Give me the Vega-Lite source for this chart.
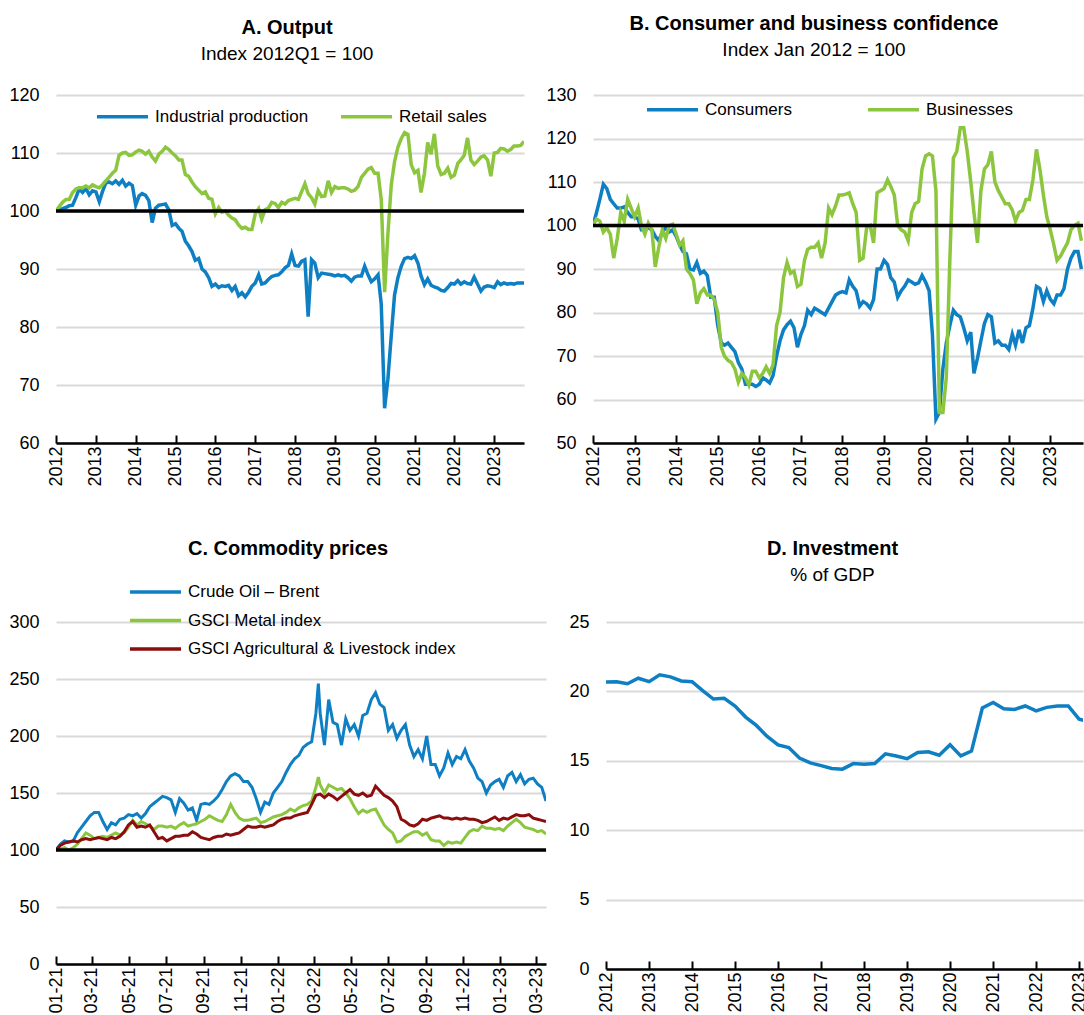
{
"$schema":"https://vega.github.io/schema/vega-lite/v6.json",
"padding":{"left":8,"top":14,"right":0,"bottom":0},
"config":{
 "font":"Liberation Sans, Arial, sans-serif",
 "view":{"stroke":null},
 "axis":{"labelFont":"Liberation Sans, Arial, sans-serif","labelFontSize":18,"labelColor":"#000","domainColor":"#000","tickColor":"#000","title":null,"labelOverlap":false,"labelFlush":false},
 "axisY":{"domain":false,"ticks":false,"grid":true,"gridColor":"#d9d9d9","gridWidth":2,"labelPadding":17},
 "axisX":{"grid":false,"domainWidth":2.5,"tickWidth":2,"tickSize":-8,"labelAngle":-90,"labelPadding":11},
 "legend":{"title":null,"orient":"none","symbolType":"stroke","symbolSize":2600,"symbolStrokeWidth":3.5,"labelFontSize":17,"labelFont":"Liberation Sans, Arial, sans-serif","labelColor":"#000","labelOffset":5,"labelLimit":500},
 "title":{"font":"Liberation Sans, Arial, sans-serif","fontSize":20,"fontWeight":"bold","color":"#000","subtitleFont":"Liberation Sans, Arial, sans-serif","subtitleFontSize":19,"subtitleColor":"#000","subtitlePadding":7,"anchor":"middle","frame":"group"}
},
"spacing":52,
"resolve":{"scale":{"x":"independent","y":"independent","color":"independent"},"legend":{"color":"independent"}},
"datasets":{
"output":[
{"d":"2012-01","s":"ip","v":100},{"d":"2012-02","s":"ip","v":100.3},{"d":"2012-03","s":"ip","v":100.4},{"d":"2012-04","s":"ip","v":100.6},{"d":"2012-05","s":"ip","v":100.9},{"d":"2012-06","s":"ip","v":101},{"d":"2012-07","s":"ip","v":102.3},{"d":"2012-08","s":"ip","v":103.8},{"d":"2012-09","s":"ip","v":103.2},{"d":"2012-10","s":"ip","v":103.9},{"d":"2012-11","s":"ip","v":102.8},{"d":"2012-12","s":"ip","v":103.5},
{"d":"2013-01","s":"ip","v":103.3},{"d":"2013-02","s":"ip","v":101.6},{"d":"2013-03","s":"ip","v":103.3},{"d":"2013-04","s":"ip","v":104.8},{"d":"2013-05","s":"ip","v":105},{"d":"2013-06","s":"ip","v":104.7},{"d":"2013-07","s":"ip","v":105.2},{"d":"2013-08","s":"ip","v":104.6},{"d":"2013-09","s":"ip","v":105.3},{"d":"2013-10","s":"ip","v":104.3},{"d":"2013-11","s":"ip","v":104.8},{"d":"2013-12","s":"ip","v":104.4},
{"d":"2014-01","s":"ip","v":101},{"d":"2014-02","s":"ip","v":102.6},{"d":"2014-03","s":"ip","v":103},{"d":"2014-04","s":"ip","v":102.7},{"d":"2014-05","s":"ip","v":101.8},{"d":"2014-06","s":"ip","v":98},{"d":"2014-07","s":"ip","v":100.5},{"d":"2014-08","s":"ip","v":101},{"d":"2014-09","s":"ip","v":101.1},{"d":"2014-10","s":"ip","v":101.2},{"d":"2014-11","s":"ip","v":100.2},{"d":"2014-12","s":"ip","v":97.5},
{"d":"2015-01","s":"ip","v":97.8},{"d":"2015-02","s":"ip","v":97},{"d":"2015-03","s":"ip","v":96.5},{"d":"2015-04","s":"ip","v":94.8},{"d":"2015-05","s":"ip","v":94},{"d":"2015-06","s":"ip","v":93},{"d":"2015-07","s":"ip","v":91.5},{"d":"2015-08","s":"ip","v":91.8},{"d":"2015-09","s":"ip","v":90},{"d":"2015-10","s":"ip","v":89.5},{"d":"2015-11","s":"ip","v":88.5},{"d":"2015-12","s":"ip","v":87},
{"d":"2016-01","s":"ip","v":87.4},{"d":"2016-02","s":"ip","v":86.8},{"d":"2016-03","s":"ip","v":87.1},{"d":"2016-04","s":"ip","v":87},{"d":"2016-05","s":"ip","v":87.2},{"d":"2016-06","s":"ip","v":86.3},{"d":"2016-07","s":"ip","v":87},{"d":"2016-08","s":"ip","v":85.4},{"d":"2016-09","s":"ip","v":85.9},{"d":"2016-10","s":"ip","v":85.2},{"d":"2016-11","s":"ip","v":86},{"d":"2016-12","s":"ip","v":87},
{"d":"2017-01","s":"ip","v":87.6},{"d":"2017-02","s":"ip","v":89},{"d":"2017-03","s":"ip","v":87.4},{"d":"2017-04","s":"ip","v":87.6},{"d":"2017-05","s":"ip","v":88.2},{"d":"2017-06","s":"ip","v":88.7},{"d":"2017-07","s":"ip","v":88.9},{"d":"2017-08","s":"ip","v":89},{"d":"2017-09","s":"ip","v":89.5},{"d":"2017-10","s":"ip","v":90.2},{"d":"2017-11","s":"ip","v":90.6},{"d":"2017-12","s":"ip","v":92.6},
{"d":"2018-01","s":"ip","v":90.6},{"d":"2018-02","s":"ip","v":90.5},{"d":"2018-03","s":"ip","v":91.3},{"d":"2018-04","s":"ip","v":91.6},{"d":"2018-05","s":"ip","v":81.8},{"d":"2018-06","s":"ip","v":91.6},{"d":"2018-07","s":"ip","v":91},{"d":"2018-08","s":"ip","v":88.5},{"d":"2018-09","s":"ip","v":89.3},{"d":"2018-10","s":"ip","v":89.2},{"d":"2018-11","s":"ip","v":89.1},{"d":"2018-12","s":"ip","v":89},
{"d":"2019-01","s":"ip","v":88.8},{"d":"2019-02","s":"ip","v":89},{"d":"2019-03","s":"ip","v":88.8},{"d":"2019-04","s":"ip","v":88.9},{"d":"2019-05","s":"ip","v":88.5},{"d":"2019-06","s":"ip","v":87.9},{"d":"2019-07","s":"ip","v":88.6},{"d":"2019-08","s":"ip","v":88.8},{"d":"2019-09","s":"ip","v":88.8},{"d":"2019-10","s":"ip","v":90.5},{"d":"2019-11","s":"ip","v":89},{"d":"2019-12","s":"ip","v":87.8},
{"d":"2020-01","s":"ip","v":88.3},{"d":"2020-02","s":"ip","v":89},{"d":"2020-03","s":"ip","v":84},{"d":"2020-04","s":"ip","v":66},{"d":"2020-05","s":"ip","v":71},{"d":"2020-06","s":"ip","v":78.5},{"d":"2020-07","s":"ip","v":85.5},{"d":"2020-08","s":"ip","v":88.5},{"d":"2020-09","s":"ip","v":90.5},{"d":"2020-10","s":"ip","v":91.8},{"d":"2020-11","s":"ip","v":92},{"d":"2020-12","s":"ip","v":91.8},
{"d":"2021-01","s":"ip","v":92.3},{"d":"2021-02","s":"ip","v":91},{"d":"2021-03","s":"ip","v":88.8},{"d":"2021-04","s":"ip","v":87.3},{"d":"2021-05","s":"ip","v":88.3},{"d":"2021-06","s":"ip","v":87.2},{"d":"2021-07","s":"ip","v":86.9},{"d":"2021-08","s":"ip","v":86.7},{"d":"2021-09","s":"ip","v":86.3},{"d":"2021-10","s":"ip","v":86.2},{"d":"2021-11","s":"ip","v":86.8},{"d":"2021-12","s":"ip","v":87.5},
{"d":"2022-01","s":"ip","v":87.4},{"d":"2022-02","s":"ip","v":88},{"d":"2022-03","s":"ip","v":87.4},{"d":"2022-04","s":"ip","v":87.8},{"d":"2022-05","s":"ip","v":87.5},{"d":"2022-06","s":"ip","v":87.4},{"d":"2022-07","s":"ip","v":88.6},{"d":"2022-08","s":"ip","v":87.4},{"d":"2022-09","s":"ip","v":86.2},{"d":"2022-10","s":"ip","v":86.9},{"d":"2022-11","s":"ip","v":87.1},{"d":"2022-12","s":"ip","v":87},
{"d":"2023-01","s":"ip","v":86.8},{"d":"2023-02","s":"ip","v":87.8},{"d":"2023-03","s":"ip","v":87.3},{"d":"2023-04","s":"ip","v":87.6},{"d":"2023-05","s":"ip","v":87.4},{"d":"2023-06","s":"ip","v":87.5},{"d":"2023-07","s":"ip","v":87.4},{"d":"2023-08","s":"ip","v":87.6},{"d":"2023-09","s":"ip","v":87.6},{"d":"2023-10","s":"ip","v":87.6},
{"d":"2012-01","s":"rs","v":100},{"d":"2012-02","s":"rs","v":100.8},{"d":"2012-03","s":"rs","v":101.5},{"d":"2012-04","s":"rs","v":102},{"d":"2012-05","s":"rs","v":102},{"d":"2012-06","s":"rs","v":103.2},{"d":"2012-07","s":"rs","v":103.8},{"d":"2012-08","s":"rs","v":104},{"d":"2012-09","s":"rs","v":104},{"d":"2012-10","s":"rs","v":104.3},{"d":"2012-11","s":"rs","v":104},{"d":"2012-12","s":"rs","v":104.5},
{"d":"2013-01","s":"rs","v":104.2},{"d":"2013-02","s":"rs","v":104},{"d":"2013-03","s":"rs","v":104.5},{"d":"2013-04","s":"rs","v":105.2},{"d":"2013-05","s":"rs","v":105.8},{"d":"2013-06","s":"rs","v":106.5},{"d":"2013-07","s":"rs","v":107},{"d":"2013-08","s":"rs","v":109.6},{"d":"2013-09","s":"rs","v":110},{"d":"2013-10","s":"rs","v":110.1},{"d":"2013-11","s":"rs","v":109.6},{"d":"2013-12","s":"rs","v":109.7},
{"d":"2014-01","s":"rs","v":110.2},{"d":"2014-02","s":"rs","v":110.5},{"d":"2014-03","s":"rs","v":110.3},{"d":"2014-04","s":"rs","v":109.8},{"d":"2014-05","s":"rs","v":110.3},{"d":"2014-06","s":"rs","v":109.3},{"d":"2014-07","s":"rs","v":108.6},{"d":"2014-08","s":"rs","v":109.8},{"d":"2014-09","s":"rs","v":110.3},{"d":"2014-10","s":"rs","v":111},{"d":"2014-11","s":"rs","v":110.6},{"d":"2014-12","s":"rs","v":110},
{"d":"2015-01","s":"rs","v":109.5},{"d":"2015-02","s":"rs","v":108.8},{"d":"2015-03","s":"rs","v":108.8},{"d":"2015-04","s":"rs","v":106.3},{"d":"2015-05","s":"rs","v":106},{"d":"2015-06","s":"rs","v":105},{"d":"2015-07","s":"rs","v":104.2},{"d":"2015-08","s":"rs","v":103.6},{"d":"2015-09","s":"rs","v":103},{"d":"2015-10","s":"rs","v":103.3},{"d":"2015-11","s":"rs","v":102.2},{"d":"2015-12","s":"rs","v":102},
{"d":"2016-01","s":"rs","v":99.5},{"d":"2016-02","s":"rs","v":100.6},{"d":"2016-03","s":"rs","v":99.8},{"d":"2016-04","s":"rs","v":100},{"d":"2016-05","s":"rs","v":99.3},{"d":"2016-06","s":"rs","v":98.8},{"d":"2016-07","s":"rs","v":98.5},{"d":"2016-08","s":"rs","v":97.6},{"d":"2016-09","s":"rs","v":97},{"d":"2016-10","s":"rs","v":97.2},{"d":"2016-11","s":"rs","v":96.8},{"d":"2016-12","s":"rs","v":96.8},
{"d":"2017-01","s":"rs","v":99.5},{"d":"2017-02","s":"rs","v":100.4},{"d":"2017-03","s":"rs","v":98.6},{"d":"2017-04","s":"rs","v":100.2},{"d":"2017-05","s":"rs","v":100.5},{"d":"2017-06","s":"rs","v":101.5},{"d":"2017-07","s":"rs","v":101.3},{"d":"2017-08","s":"rs","v":100.6},{"d":"2017-09","s":"rs","v":101.5},{"d":"2017-10","s":"rs","v":101.2},{"d":"2017-11","s":"rs","v":101.8},{"d":"2017-12","s":"rs","v":102},
{"d":"2018-01","s":"rs","v":102.2},{"d":"2018-02","s":"rs","v":102},{"d":"2018-03","s":"rs","v":103.3},{"d":"2018-04","s":"rs","v":104.7},{"d":"2018-05","s":"rs","v":103},{"d":"2018-06","s":"rs","v":102.3},{"d":"2018-07","s":"rs","v":101.2},{"d":"2018-08","s":"rs","v":103.5},{"d":"2018-09","s":"rs","v":102.5},{"d":"2018-10","s":"rs","v":102.6},{"d":"2018-11","s":"rs","v":105.2},{"d":"2018-12","s":"rs","v":103.2},
{"d":"2019-01","s":"rs","v":104.2},{"d":"2019-02","s":"rs","v":103.9},{"d":"2019-03","s":"rs","v":104},{"d":"2019-04","s":"rs","v":104},{"d":"2019-05","s":"rs","v":103.8},{"d":"2019-06","s":"rs","v":103.4},{"d":"2019-07","s":"rs","v":103.6},{"d":"2019-08","s":"rs","v":104.2},{"d":"2019-09","s":"rs","v":105.8},{"d":"2019-10","s":"rs","v":106.5},{"d":"2019-11","s":"rs","v":107.2},{"d":"2019-12","s":"rs","v":107.5},
{"d":"2020-01","s":"rs","v":106.5},{"d":"2020-02","s":"rs","v":106.5},{"d":"2020-03","s":"rs","v":102},{"d":"2020-04","s":"rs","v":86},{"d":"2020-05","s":"rs","v":96},{"d":"2020-06","s":"rs","v":104.5},{"d":"2020-07","s":"rs","v":108.5},{"d":"2020-08","s":"rs","v":111},{"d":"2020-09","s":"rs","v":112.5},{"d":"2020-10","s":"rs","v":113.5},{"d":"2020-11","s":"rs","v":113.2},{"d":"2020-12","s":"rs","v":108},
{"d":"2021-01","s":"rs","v":106.6},{"d":"2021-02","s":"rs","v":107},{"d":"2021-03","s":"rs","v":103.2},{"d":"2021-04","s":"rs","v":106.5},{"d":"2021-05","s":"rs","v":111.8},{"d":"2021-06","s":"rs","v":109.8},{"d":"2021-07","s":"rs","v":113.3},{"d":"2021-08","s":"rs","v":107.8},{"d":"2021-09","s":"rs","v":106.3},{"d":"2021-10","s":"rs","v":106.5},{"d":"2021-11","s":"rs","v":107.4},{"d":"2021-12","s":"rs","v":105.8},
{"d":"2022-01","s":"rs","v":106.2},{"d":"2022-02","s":"rs","v":108.2},{"d":"2022-03","s":"rs","v":108.8},{"d":"2022-04","s":"rs","v":109.6},{"d":"2022-05","s":"rs","v":112.6},{"d":"2022-06","s":"rs","v":108.8},{"d":"2022-07","s":"rs","v":108},{"d":"2022-08","s":"rs","v":108.6},{"d":"2022-09","s":"rs","v":109.3},{"d":"2022-10","s":"rs","v":109.5},{"d":"2022-11","s":"rs","v":108.8},{"d":"2022-12","s":"rs","v":106},
{"d":"2023-01","s":"rs","v":110},{"d":"2023-02","s":"rs","v":110.1},{"d":"2023-03","s":"rs","v":110.8},{"d":"2023-04","s":"rs","v":110.7},{"d":"2023-05","s":"rs","v":110.3},{"d":"2023-06","s":"rs","v":110.6},{"d":"2023-07","s":"rs","v":111.2},{"d":"2023-08","s":"rs","v":111.2},{"d":"2023-09","s":"rs","v":111.3},{"d":"2023-10","s":"rs","v":112}
],
"conf":[
{"d":"2012-01","s":"c","v":100},{"d":"2012-02","s":"c","v":103},{"d":"2012-03","s":"c","v":106},{"d":"2012-04","s":"c","v":109.5},{"d":"2012-05","s":"c","v":108.5},{"d":"2012-06","s":"c","v":106},{"d":"2012-07","s":"c","v":105},{"d":"2012-08","s":"c","v":104},{"d":"2012-09","s":"c","v":104},{"d":"2012-10","s":"c","v":104.3},{"d":"2012-11","s":"c","v":103},{"d":"2012-12","s":"c","v":102},
{"d":"2013-01","s":"c","v":102},{"d":"2013-02","s":"c","v":101.5},{"d":"2013-03","s":"c","v":99},{"d":"2013-04","s":"c","v":99},{"d":"2013-05","s":"c","v":99.5},{"d":"2013-06","s":"c","v":99},{"d":"2013-07","s":"c","v":97.5},{"d":"2013-08","s":"c","v":96.5},{"d":"2013-09","s":"c","v":98.5},{"d":"2013-10","s":"c","v":99.5},{"d":"2013-11","s":"c","v":98.5},{"d":"2013-12","s":"c","v":99},
{"d":"2014-01","s":"c","v":97.5},{"d":"2014-02","s":"c","v":95.5},{"d":"2014-03","s":"c","v":94},{"d":"2014-04","s":"c","v":93.5},{"d":"2014-05","s":"c","v":90},{"d":"2014-06","s":"c","v":89.8},{"d":"2014-07","s":"c","v":91.5},{"d":"2014-08","s":"c","v":89},{"d":"2014-09","s":"c","v":89.5},{"d":"2014-10","s":"c","v":88.5},{"d":"2014-11","s":"c","v":83.5},{"d":"2014-12","s":"c","v":83.5},
{"d":"2015-01","s":"c","v":77},{"d":"2015-02","s":"c","v":73},{"d":"2015-03","s":"c","v":72.5},{"d":"2015-04","s":"c","v":73},{"d":"2015-05","s":"c","v":72},{"d":"2015-06","s":"c","v":71},{"d":"2015-07","s":"c","v":68.5},{"d":"2015-08","s":"c","v":67},{"d":"2015-09","s":"c","v":63.5},{"d":"2015-10","s":"c","v":63.5},{"d":"2015-11","s":"c","v":63.5},{"d":"2015-12","s":"c","v":63},
{"d":"2016-01","s":"c","v":63.5},{"d":"2016-02","s":"c","v":65},{"d":"2016-03","s":"c","v":64.5},{"d":"2016-04","s":"c","v":63.8},{"d":"2016-05","s":"c","v":65.5},{"d":"2016-06","s":"c","v":70},{"d":"2016-07","s":"c","v":73.5},{"d":"2016-08","s":"c","v":76},{"d":"2016-09","s":"c","v":77.2},{"d":"2016-10","s":"c","v":78},{"d":"2016-11","s":"c","v":76.5},{"d":"2016-12","s":"c","v":72},
{"d":"2017-01","s":"c","v":75},{"d":"2017-02","s":"c","v":77},{"d":"2017-03","s":"c","v":80.5},{"d":"2017-04","s":"c","v":79.5},{"d":"2017-05","s":"c","v":81},{"d":"2017-06","s":"c","v":80.5},{"d":"2017-07","s":"c","v":80},{"d":"2017-08","s":"c","v":79.5},{"d":"2017-09","s":"c","v":81},{"d":"2017-10","s":"c","v":82.5},{"d":"2017-11","s":"c","v":84},{"d":"2017-12","s":"c","v":84.5},
{"d":"2018-01","s":"c","v":84.8},{"d":"2018-02","s":"c","v":84.5},{"d":"2018-03","s":"c","v":87.5},{"d":"2018-04","s":"c","v":86},{"d":"2018-05","s":"c","v":85},{"d":"2018-06","s":"c","v":81.5},{"d":"2018-07","s":"c","v":82.5},{"d":"2018-08","s":"c","v":82},{"d":"2018-09","s":"c","v":81},{"d":"2018-10","s":"c","v":83},{"d":"2018-11","s":"c","v":90},{"d":"2018-12","s":"c","v":90},
{"d":"2019-01","s":"c","v":92},{"d":"2019-02","s":"c","v":91},{"d":"2019-03","s":"c","v":88},{"d":"2019-04","s":"c","v":87},{"d":"2019-05","s":"c","v":83.5},{"d":"2019-06","s":"c","v":85},{"d":"2019-07","s":"c","v":86},{"d":"2019-08","s":"c","v":87.5},{"d":"2019-09","s":"c","v":87},{"d":"2019-10","s":"c","v":86.5},{"d":"2019-11","s":"c","v":86.8},{"d":"2019-12","s":"c","v":88.5},
{"d":"2020-01","s":"c","v":87},{"d":"2020-02","s":"c","v":85},{"d":"2020-03","s":"c","v":75},{"d":"2020-04","s":"c","v":55.5},{"d":"2020-05","s":"c","v":57},{"d":"2020-06","s":"c","v":67},{"d":"2020-07","s":"c","v":73},{"d":"2020-08","s":"c","v":77},{"d":"2020-09","s":"c","v":80.5},{"d":"2020-10","s":"c","v":79.5},{"d":"2020-11","s":"c","v":79},{"d":"2020-12","s":"c","v":76.5},
{"d":"2021-01","s":"c","v":73.5},{"d":"2021-02","s":"c","v":75.5},{"d":"2021-03","s":"c","v":66},{"d":"2021-04","s":"c","v":69.5},{"d":"2021-05","s":"c","v":73.5},{"d":"2021-06","s":"c","v":77.5},{"d":"2021-07","s":"c","v":79.5},{"d":"2021-08","s":"c","v":79},{"d":"2021-09","s":"c","v":73},{"d":"2021-10","s":"c","v":73.5},{"d":"2021-11","s":"c","v":72.5},{"d":"2021-12","s":"c","v":72.5},
{"d":"2022-01","s":"c","v":71.5},{"d":"2022-02","s":"c","v":75},{"d":"2022-03","s":"c","v":72.5},{"d":"2022-04","s":"c","v":76},{"d":"2022-05","s":"c","v":73},{"d":"2022-06","s":"c","v":76.5},{"d":"2022-07","s":"c","v":77},{"d":"2022-08","s":"c","v":81},{"d":"2022-09","s":"c","v":86},{"d":"2022-10","s":"c","v":85.5},{"d":"2022-11","s":"c","v":82.5},{"d":"2022-12","s":"c","v":85},
{"d":"2023-01","s":"c","v":83},{"d":"2023-02","s":"c","v":82},{"d":"2023-03","s":"c","v":84},{"d":"2023-04","s":"c","v":84},{"d":"2023-05","s":"c","v":85.5},{"d":"2023-06","s":"c","v":90},{"d":"2023-07","s":"c","v":92.5},{"d":"2023-08","s":"c","v":94},{"d":"2023-09","s":"c","v":94},{"d":"2023-10","s":"c","v":90},
{"d":"2012-01","s":"b","v":100},{"d":"2012-02","s":"b","v":101.5},{"d":"2012-03","s":"b","v":101},{"d":"2012-04","s":"b","v":98.5},{"d":"2012-05","s":"b","v":99.5},{"d":"2012-06","s":"b","v":98},{"d":"2012-07","s":"b","v":92.5},{"d":"2012-08","s":"b","v":97},{"d":"2012-09","s":"b","v":103},{"d":"2012-10","s":"b","v":101},{"d":"2012-11","s":"b","v":106},{"d":"2012-12","s":"b","v":104},
{"d":"2013-01","s":"b","v":102},{"d":"2013-02","s":"b","v":104},{"d":"2013-03","s":"b","v":100},{"d":"2013-04","s":"b","v":98},{"d":"2013-05","s":"b","v":100.5},{"d":"2013-06","s":"b","v":99},{"d":"2013-07","s":"b","v":90.5},{"d":"2013-08","s":"b","v":95},{"d":"2013-09","s":"b","v":99},{"d":"2013-10","s":"b","v":97},{"d":"2013-11","s":"b","v":100},{"d":"2013-12","s":"b","v":100.3},
{"d":"2014-01","s":"b","v":98},{"d":"2014-02","s":"b","v":95.5},{"d":"2014-03","s":"b","v":96.5},{"d":"2014-04","s":"b","v":90},{"d":"2014-05","s":"b","v":89},{"d":"2014-06","s":"b","v":87.5},{"d":"2014-07","s":"b","v":82},{"d":"2014-08","s":"b","v":84.5},{"d":"2014-09","s":"b","v":85.5},{"d":"2014-10","s":"b","v":84},{"d":"2014-11","s":"b","v":84},{"d":"2014-12","s":"b","v":83},
{"d":"2015-01","s":"b","v":80},{"d":"2015-02","s":"b","v":72},{"d":"2015-03","s":"b","v":70},{"d":"2015-04","s":"b","v":69},{"d":"2015-05","s":"b","v":68.5},{"d":"2015-06","s":"b","v":67},{"d":"2015-07","s":"b","v":64},{"d":"2015-08","s":"b","v":66},{"d":"2015-09","s":"b","v":65},{"d":"2015-10","s":"b","v":63.3},{"d":"2015-11","s":"b","v":66.5},{"d":"2015-12","s":"b","v":66.5},
{"d":"2016-01","s":"b","v":65},{"d":"2016-02","s":"b","v":66},{"d":"2016-03","s":"b","v":67.5},{"d":"2016-04","s":"b","v":66},{"d":"2016-05","s":"b","v":68},{"d":"2016-06","s":"b","v":77},{"d":"2016-07","s":"b","v":80},{"d":"2016-08","s":"b","v":88},{"d":"2016-09","s":"b","v":91.5},{"d":"2016-10","s":"b","v":89},{"d":"2016-11","s":"b","v":89.5},{"d":"2016-12","s":"b","v":86},
{"d":"2017-01","s":"b","v":86.5},{"d":"2017-02","s":"b","v":92},{"d":"2017-03","s":"b","v":94.5},{"d":"2017-04","s":"b","v":95},{"d":"2017-05","s":"b","v":95},{"d":"2017-06","s":"b","v":96},{"d":"2017-07","s":"b","v":92.5},{"d":"2017-08","s":"b","v":96},{"d":"2017-09","s":"b","v":104},{"d":"2017-10","s":"b","v":102.5},{"d":"2017-11","s":"b","v":104.5},{"d":"2017-12","s":"b","v":107},
{"d":"2018-01","s":"b","v":107},{"d":"2018-02","s":"b","v":107.2},{"d":"2018-03","s":"b","v":107.5},{"d":"2018-04","s":"b","v":105},{"d":"2018-05","s":"b","v":103},{"d":"2018-06","s":"b","v":92},{"d":"2018-07","s":"b","v":92.5},{"d":"2018-08","s":"b","v":99.5},{"d":"2018-09","s":"b","v":100},{"d":"2018-10","s":"b","v":96},{"d":"2018-11","s":"b","v":107.5},{"d":"2018-12","s":"b","v":108},
{"d":"2019-01","s":"b","v":108.5},{"d":"2019-02","s":"b","v":110.5},{"d":"2019-03","s":"b","v":109},{"d":"2019-04","s":"b","v":107},{"d":"2019-05","s":"b","v":100},{"d":"2019-06","s":"b","v":99},{"d":"2019-07","s":"b","v":98.5},{"d":"2019-08","s":"b","v":96.5},{"d":"2019-09","s":"b","v":103},{"d":"2019-10","s":"b","v":105},{"d":"2019-11","s":"b","v":105.5},{"d":"2019-12","s":"b","v":113},
{"d":"2020-01","s":"b","v":116},{"d":"2020-02","s":"b","v":116.5},{"d":"2020-03","s":"b","v":116},{"d":"2020-04","s":"b","v":108},{"d":"2020-05","s":"b","v":57},{"d":"2020-06","s":"b","v":57},{"d":"2020-07","s":"b","v":65},{"d":"2020-08","s":"b","v":92},{"d":"2020-09","s":"b","v":115.5},{"d":"2020-10","s":"b","v":117},{"d":"2020-11","s":"b","v":122.5},{"d":"2020-12","s":"b","v":122.5},
{"d":"2021-01","s":"b","v":117},{"d":"2021-02","s":"b","v":110},{"d":"2021-03","s":"b","v":103},{"d":"2021-04","s":"b","v":96},{"d":"2021-05","s":"b","v":108},{"d":"2021-06","s":"b","v":113},{"d":"2021-07","s":"b","v":114},{"d":"2021-08","s":"b","v":117},{"d":"2021-09","s":"b","v":110},{"d":"2021-10","s":"b","v":108},{"d":"2021-11","s":"b","v":106.5},{"d":"2021-12","s":"b","v":105},
{"d":"2022-01","s":"b","v":105},{"d":"2022-02","s":"b","v":103.5},{"d":"2022-03","s":"b","v":101},{"d":"2022-04","s":"b","v":103},{"d":"2022-05","s":"b","v":103.5},{"d":"2022-06","s":"b","v":106},{"d":"2022-07","s":"b","v":106},{"d":"2022-08","s":"b","v":110.5},{"d":"2022-09","s":"b","v":117.5},{"d":"2022-10","s":"b","v":113},{"d":"2022-11","s":"b","v":107},{"d":"2022-12","s":"b","v":102},
{"d":"2023-01","s":"b","v":99},{"d":"2023-02","s":"b","v":95.5},{"d":"2023-03","s":"b","v":92},{"d":"2023-04","s":"b","v":93},{"d":"2023-05","s":"b","v":94.5},{"d":"2023-06","s":"b","v":96},{"d":"2023-07","s":"b","v":99},{"d":"2023-08","s":"b","v":100},{"d":"2023-09","s":"b","v":100.5},{"d":"2023-10","s":"b","v":96.5}
],
"comm":[
{"d":"2021-01-01","s":"o","v":100},{"d":"2021-01-08","s":"o","v":105},{"d":"2021-01-15","s":"o","v":108},{"d":"2021-01-22","s":"o","v":107},{"d":"2021-01-29","s":"o","v":107.5},{"d":"2021-02-05","s":"o","v":115},{"d":"2021-02-12","s":"o","v":120},{"d":"2021-02-19","s":"o","v":125},{"d":"2021-02-26","s":"o","v":130},{"d":"2021-03-05","s":"o","v":133},{"d":"2021-03-12","s":"o","v":133},{"d":"2021-03-19","s":"o","v":125},{"d":"2021-03-26","s":"o","v":118},{"d":"2021-04-02","s":"o","v":124},{"d":"2021-04-09","s":"o","v":122},{"d":"2021-04-16","s":"o","v":127},{"d":"2021-04-23","s":"o","v":128},{"d":"2021-04-30","s":"o","v":131},{"d":"2021-05-07","s":"o","v":130},{"d":"2021-05-14","s":"o","v":132},{"d":"2021-05-21","s":"o","v":128},{"d":"2021-05-28","s":"o","v":132},{"d":"2021-06-04","s":"o","v":138},{"d":"2021-06-11","s":"o","v":141},{"d":"2021-06-18","s":"o","v":144},{"d":"2021-06-25","s":"o","v":147},{"d":"2021-07-02","s":"o","v":146},{"d":"2021-07-09","s":"o","v":144},{"d":"2021-07-16","s":"o","v":133},{"d":"2021-07-23","s":"o","v":145},{"d":"2021-07-30","s":"o","v":141},{"d":"2021-08-06","s":"o","v":135},{"d":"2021-08-13","s":"o","v":137},{"d":"2021-08-20","s":"o","v":126},{"d":"2021-08-27","s":"o","v":140},{"d":"2021-09-03","s":"o","v":141},{"d":"2021-09-10","s":"o","v":140},{"d":"2021-09-17","s":"o","v":143},{"d":"2021-09-24","s":"o","v":147},{"d":"2021-10-01","s":"o","v":153},{"d":"2021-10-08","s":"o","v":160},{"d":"2021-10-15","s":"o","v":165},{"d":"2021-10-22","s":"o","v":167},{"d":"2021-10-29","s":"o","v":165},{"d":"2021-11-05","s":"o","v":160},{"d":"2021-11-12","s":"o","v":160},{"d":"2021-11-19","s":"o","v":155},{"d":"2021-11-26","s":"o","v":145},{"d":"2021-12-03","s":"o","v":133},{"d":"2021-12-10","s":"o","v":142},{"d":"2021-12-17","s":"o","v":140},{"d":"2021-12-24","s":"o","v":150},{"d":"2021-12-31","s":"o","v":155},{"d":"2022-01-07","s":"o","v":160},{"d":"2022-01-14","s":"o","v":168},{"d":"2022-01-21","s":"o","v":175},{"d":"2022-01-28","s":"o","v":180},{"d":"2022-02-04","s":"o","v":183},{"d":"2022-02-11","s":"o","v":190},{"d":"2022-02-18","s":"o","v":193},{"d":"2022-02-25","s":"o","v":195},{"d":"2022-03-04","s":"o","v":220},{"d":"2022-03-08","s":"o","v":246},{"d":"2022-03-11","s":"o","v":220},{"d":"2022-03-18","s":"o","v":192},{"d":"2022-03-25","s":"o","v":232},{"d":"2022-04-01","s":"o","v":212},{"d":"2022-04-08","s":"o","v":210},{"d":"2022-04-15","s":"o","v":192},{"d":"2022-04-22","s":"o","v":215},{"d":"2022-04-29","s":"o","v":205},{"d":"2022-05-06","s":"o","v":210},{"d":"2022-05-13","s":"o","v":200},{"d":"2022-05-20","s":"o","v":218},{"d":"2022-05-27","s":"o","v":220},{"d":"2022-06-03","s":"o","v":232},{"d":"2022-06-10","s":"o","v":238},{"d":"2022-06-17","s":"o","v":228},{"d":"2022-06-24","s":"o","v":225},{"d":"2022-07-01","s":"o","v":205},{"d":"2022-07-08","s":"o","v":210},{"d":"2022-07-15","s":"o","v":198},{"d":"2022-07-22","s":"o","v":205},{"d":"2022-07-29","s":"o","v":210},{"d":"2022-08-05","s":"o","v":192},{"d":"2022-08-12","s":"o","v":182},{"d":"2022-08-19","s":"o","v":188},{"d":"2022-08-26","s":"o","v":180},{"d":"2022-09-02","s":"o","v":200},{"d":"2022-09-09","s":"o","v":175},{"d":"2022-09-16","s":"o","v":175},{"d":"2022-09-23","s":"o","v":165},{"d":"2022-09-30","s":"o","v":172},{"d":"2022-10-07","s":"o","v":185},{"d":"2022-10-14","s":"o","v":175},{"d":"2022-10-21","s":"o","v":182},{"d":"2022-10-28","s":"o","v":180},{"d":"2022-11-04","s":"o","v":188},{"d":"2022-11-11","s":"o","v":178},{"d":"2022-11-18","s":"o","v":172},{"d":"2022-11-25","s":"o","v":163},{"d":"2022-12-02","s":"o","v":160},{"d":"2022-12-09","s":"o","v":150},{"d":"2022-12-16","s":"o","v":157},{"d":"2022-12-23","s":"o","v":160},{"d":"2022-12-30","s":"o","v":162},{"d":"2023-01-06","s":"o","v":155},{"d":"2023-01-13","s":"o","v":165},{"d":"2023-01-20","s":"o","v":168},{"d":"2023-01-27","s":"o","v":160},{"d":"2023-02-03","s":"o","v":166},{"d":"2023-02-10","s":"o","v":158},{"d":"2023-02-17","s":"o","v":162},{"d":"2023-02-24","s":"o","v":163},{"d":"2023-03-03","s":"o","v":158},{"d":"2023-03-10","s":"o","v":155},{"d":"2023-03-17","s":"o","v":143},
{"d":"2021-01-01","s":"m","v":100},{"d":"2021-01-08","s":"m","v":101},{"d":"2021-01-15","s":"m","v":102},{"d":"2021-01-22","s":"m","v":100},{"d":"2021-01-29","s":"m","v":102},{"d":"2021-02-05","s":"m","v":105},{"d":"2021-02-12","s":"m","v":110},{"d":"2021-02-19","s":"m","v":115},{"d":"2021-02-26","s":"m","v":113},{"d":"2021-03-05","s":"m","v":110},{"d":"2021-03-12","s":"m","v":111},{"d":"2021-03-19","s":"m","v":112},{"d":"2021-03-26","s":"m","v":111},{"d":"2021-04-02","s":"m","v":113},{"d":"2021-04-09","s":"m","v":115},{"d":"2021-04-16","s":"m","v":113},{"d":"2021-04-23","s":"m","v":115},{"d":"2021-04-30","s":"m","v":120},{"d":"2021-05-07","s":"m","v":126},{"d":"2021-05-14","s":"m","v":122},{"d":"2021-05-21","s":"m","v":125},{"d":"2021-05-28","s":"m","v":123},{"d":"2021-06-04","s":"m","v":121},{"d":"2021-06-11","s":"m","v":118},{"d":"2021-06-18","s":"m","v":121},{"d":"2021-06-25","s":"m","v":121},{"d":"2021-07-02","s":"m","v":120},{"d":"2021-07-09","s":"m","v":121},{"d":"2021-07-16","s":"m","v":119},{"d":"2021-07-23","s":"m","v":122},{"d":"2021-07-30","s":"m","v":124},{"d":"2021-08-06","s":"m","v":121},{"d":"2021-08-13","s":"m","v":122},{"d":"2021-08-20","s":"m","v":123},{"d":"2021-08-27","s":"m","v":125},{"d":"2021-09-03","s":"m","v":127},{"d":"2021-09-10","s":"m","v":130},{"d":"2021-09-17","s":"m","v":128},{"d":"2021-09-24","s":"m","v":126},{"d":"2021-10-01","s":"m","v":125},{"d":"2021-10-08","s":"m","v":131},{"d":"2021-10-15","s":"m","v":140},{"d":"2021-10-22","s":"m","v":133},{"d":"2021-10-29","s":"m","v":128},{"d":"2021-11-05","s":"m","v":126},{"d":"2021-11-12","s":"m","v":126},{"d":"2021-11-19","s":"m","v":127},{"d":"2021-11-26","s":"m","v":128},{"d":"2021-12-03","s":"m","v":124},{"d":"2021-12-10","s":"m","v":125},{"d":"2021-12-17","s":"m","v":127},{"d":"2021-12-24","s":"m","v":129},{"d":"2021-12-31","s":"m","v":130},{"d":"2022-01-07","s":"m","v":131},{"d":"2022-01-14","s":"m","v":133},{"d":"2022-01-21","s":"m","v":136},{"d":"2022-01-28","s":"m","v":134},{"d":"2022-02-04","s":"m","v":137},{"d":"2022-02-11","s":"m","v":139},{"d":"2022-02-18","s":"m","v":140},{"d":"2022-02-25","s":"m","v":143},{"d":"2022-03-04","s":"m","v":155},{"d":"2022-03-08","s":"m","v":164},{"d":"2022-03-11","s":"m","v":157},{"d":"2022-03-18","s":"m","v":150},{"d":"2022-03-25","s":"m","v":157},{"d":"2022-04-01","s":"m","v":155},{"d":"2022-04-08","s":"m","v":153},{"d":"2022-04-15","s":"m","v":154},{"d":"2022-04-22","s":"m","v":150},{"d":"2022-04-29","s":"m","v":145},{"d":"2022-05-06","s":"m","v":138},{"d":"2022-05-13","s":"m","v":132},{"d":"2022-05-20","s":"m","v":135},{"d":"2022-05-27","s":"m","v":133},{"d":"2022-06-03","s":"m","v":135},{"d":"2022-06-10","s":"m","v":136},{"d":"2022-06-17","s":"m","v":129},{"d":"2022-06-24","s":"m","v":122},{"d":"2022-07-01","s":"m","v":118},{"d":"2022-07-08","s":"m","v":115},{"d":"2022-07-15","s":"m","v":107},{"d":"2022-07-22","s":"m","v":108},{"d":"2022-07-29","s":"m","v":112},{"d":"2022-08-05","s":"m","v":114},{"d":"2022-08-12","s":"m","v":116},{"d":"2022-08-19","s":"m","v":116},{"d":"2022-08-26","s":"m","v":113},{"d":"2022-09-02","s":"m","v":115},{"d":"2022-09-09","s":"m","v":109},{"d":"2022-09-16","s":"m","v":108},{"d":"2022-09-23","s":"m","v":108},{"d":"2022-09-30","s":"m","v":104},{"d":"2022-10-07","s":"m","v":107},{"d":"2022-10-14","s":"m","v":106},{"d":"2022-10-21","s":"m","v":107},{"d":"2022-10-28","s":"m","v":106},{"d":"2022-11-04","s":"m","v":111},{"d":"2022-11-11","s":"m","v":116},{"d":"2022-11-18","s":"m","v":118},{"d":"2022-11-25","s":"m","v":117},{"d":"2022-12-02","s":"m","v":121},{"d":"2022-12-09","s":"m","v":119},{"d":"2022-12-16","s":"m","v":119},{"d":"2022-12-23","s":"m","v":118},{"d":"2022-12-30","s":"m","v":119},{"d":"2023-01-06","s":"m","v":117},{"d":"2023-01-13","s":"m","v":121},{"d":"2023-01-20","s":"m","v":124},{"d":"2023-01-27","s":"m","v":127},{"d":"2023-02-03","s":"m","v":124},{"d":"2023-02-10","s":"m","v":120},{"d":"2023-02-17","s":"m","v":119},{"d":"2023-02-24","s":"m","v":118},{"d":"2023-03-03","s":"m","v":116},{"d":"2023-03-10","s":"m","v":117},{"d":"2023-03-17","s":"m","v":114},
{"d":"2021-01-01","s":"a","v":100},{"d":"2021-01-08","s":"a","v":104},{"d":"2021-01-15","s":"a","v":106},{"d":"2021-01-22","s":"a","v":107},{"d":"2021-01-29","s":"a","v":108},{"d":"2021-02-05","s":"a","v":107},{"d":"2021-02-12","s":"a","v":109},{"d":"2021-02-19","s":"a","v":110},{"d":"2021-02-26","s":"a","v":109},{"d":"2021-03-05","s":"a","v":110},{"d":"2021-03-12","s":"a","v":111},{"d":"2021-03-19","s":"a","v":110},{"d":"2021-03-26","s":"a","v":109},{"d":"2021-04-02","s":"a","v":111},{"d":"2021-04-09","s":"a","v":110},{"d":"2021-04-16","s":"a","v":112},{"d":"2021-04-23","s":"a","v":116},{"d":"2021-04-30","s":"a","v":122},{"d":"2021-05-07","s":"a","v":125},{"d":"2021-05-14","s":"a","v":120},{"d":"2021-05-21","s":"a","v":121},{"d":"2021-05-28","s":"a","v":120},{"d":"2021-06-04","s":"a","v":122},{"d":"2021-06-11","s":"a","v":116},{"d":"2021-06-18","s":"a","v":110},{"d":"2021-06-25","s":"a","v":111},{"d":"2021-07-02","s":"a","v":108},{"d":"2021-07-09","s":"a","v":110},{"d":"2021-07-16","s":"a","v":112},{"d":"2021-07-23","s":"a","v":112},{"d":"2021-07-30","s":"a","v":113},{"d":"2021-08-06","s":"a","v":113},{"d":"2021-08-13","s":"a","v":116},{"d":"2021-08-20","s":"a","v":114},{"d":"2021-08-27","s":"a","v":111},{"d":"2021-09-03","s":"a","v":110},{"d":"2021-09-10","s":"a","v":109},{"d":"2021-09-17","s":"a","v":111},{"d":"2021-09-24","s":"a","v":112},{"d":"2021-10-01","s":"a","v":112},{"d":"2021-10-08","s":"a","v":114},{"d":"2021-10-15","s":"a","v":113},{"d":"2021-10-22","s":"a","v":114},{"d":"2021-10-29","s":"a","v":115},{"d":"2021-11-05","s":"a","v":118},{"d":"2021-11-12","s":"a","v":121},{"d":"2021-11-19","s":"a","v":120},{"d":"2021-11-26","s":"a","v":120},{"d":"2021-12-03","s":"a","v":121},{"d":"2021-12-10","s":"a","v":120},{"d":"2021-12-17","s":"a","v":121},{"d":"2021-12-24","s":"a","v":122},{"d":"2021-12-31","s":"a","v":125},{"d":"2022-01-07","s":"a","v":127},{"d":"2022-01-14","s":"a","v":128},{"d":"2022-01-21","s":"a","v":128},{"d":"2022-01-28","s":"a","v":130},{"d":"2022-02-04","s":"a","v":131},{"d":"2022-02-11","s":"a","v":132},{"d":"2022-02-18","s":"a","v":133},{"d":"2022-02-25","s":"a","v":140},{"d":"2022-03-04","s":"a","v":148},{"d":"2022-03-11","s":"a","v":149},{"d":"2022-03-18","s":"a","v":146},{"d":"2022-03-25","s":"a","v":149},{"d":"2022-04-01","s":"a","v":147},{"d":"2022-04-08","s":"a","v":144},{"d":"2022-04-15","s":"a","v":147},{"d":"2022-04-22","s":"a","v":150},{"d":"2022-04-29","s":"a","v":153},{"d":"2022-05-06","s":"a","v":149},{"d":"2022-05-13","s":"a","v":148},{"d":"2022-05-20","s":"a","v":150},{"d":"2022-05-27","s":"a","v":147},{"d":"2022-06-03","s":"a","v":148},{"d":"2022-06-10","s":"a","v":156},{"d":"2022-06-17","s":"a","v":152},{"d":"2022-06-24","s":"a","v":148},{"d":"2022-07-01","s":"a","v":146},{"d":"2022-07-08","s":"a","v":143},{"d":"2022-07-15","s":"a","v":138},{"d":"2022-07-22","s":"a","v":127},{"d":"2022-07-29","s":"a","v":125},{"d":"2022-08-05","s":"a","v":122},{"d":"2022-08-12","s":"a","v":121},{"d":"2022-08-19","s":"a","v":123},{"d":"2022-08-26","s":"a","v":127},{"d":"2022-09-02","s":"a","v":126},{"d":"2022-09-09","s":"a","v":128},{"d":"2022-09-16","s":"a","v":129},{"d":"2022-09-23","s":"a","v":130},{"d":"2022-09-30","s":"a","v":128},{"d":"2022-10-07","s":"a","v":128},{"d":"2022-10-14","s":"a","v":127},{"d":"2022-10-21","s":"a","v":128},{"d":"2022-10-28","s":"a","v":127},{"d":"2022-11-04","s":"a","v":128},{"d":"2022-11-11","s":"a","v":127},{"d":"2022-11-18","s":"a","v":127},{"d":"2022-11-25","s":"a","v":126},{"d":"2022-12-02","s":"a","v":124},{"d":"2022-12-09","s":"a","v":125},{"d":"2022-12-16","s":"a","v":127},{"d":"2022-12-23","s":"a","v":129},{"d":"2022-12-30","s":"a","v":126},{"d":"2023-01-06","s":"a","v":128},{"d":"2023-01-13","s":"a","v":127},{"d":"2023-01-20","s":"a","v":129},{"d":"2023-01-27","s":"a","v":131},{"d":"2023-02-03","s":"a","v":130},{"d":"2023-02-10","s":"a","v":130},{"d":"2023-02-17","s":"a","v":131},{"d":"2023-02-24","s":"a","v":128},{"d":"2023-03-03","s":"a","v":127},{"d":"2023-03-10","s":"a","v":126},{"d":"2023-03-17","s":"a","v":125}
],
"inv":[
{"d":"2012-01","v":20.68},{"d":"2012-04","v":20.7},{"d":"2012-07","v":20.55},{"d":"2012-10","v":20.95},
{"d":"2013-01","v":20.7},{"d":"2013-04","v":21.2},{"d":"2013-07","v":21.05},{"d":"2013-10","v":20.75},
{"d":"2014-01","v":20.7},{"d":"2014-04","v":20.05},{"d":"2014-07","v":19.45},{"d":"2014-10","v":19.5},
{"d":"2015-01","v":18.95},{"d":"2015-04","v":18.15},{"d":"2015-07","v":17.55},{"d":"2015-10","v":16.75},
{"d":"2016-01","v":16.15},{"d":"2016-04","v":15.95},{"d":"2016-07","v":15.2},{"d":"2016-10","v":14.85},
{"d":"2017-01","v":14.65},{"d":"2017-04","v":14.45},{"d":"2017-07","v":14.4},{"d":"2017-10","v":14.8},
{"d":"2018-01","v":14.75},{"d":"2018-04","v":14.8},{"d":"2018-07","v":15.5},{"d":"2018-10","v":15.35},
{"d":"2019-01","v":15.15},{"d":"2019-04","v":15.6},{"d":"2019-07","v":15.65},{"d":"2019-10","v":15.4},
{"d":"2020-01","v":16.15},{"d":"2020-04","v":15.35},{"d":"2020-07","v":15.7},{"d":"2020-10","v":18.8},
{"d":"2021-01","v":19.2},{"d":"2021-04","v":18.75},{"d":"2021-07","v":18.7},{"d":"2021-10","v":18.95},
{"d":"2022-01","v":18.6},{"d":"2022-04","v":18.85},{"d":"2022-07","v":18.95},{"d":"2022-10","v":18.95},
{"d":"2023-01","v":18.0},{"d":"2023-04","v":17.8}
]
},
"vconcat":[
{
"hconcat":[
{
 "width":468,"height":348,
 "title":{"text":"A. Output","subtitle":"Index 2012Q1 = 100","offset":22,"dx":-3},
 "layer":[
  {"data":{"name":"output"},"mark":{"type":"line","strokeWidth":3.5,"clip":true},
   "encoding":{
    "x":{"field":"d","type":"temporal","scale":{"type":"utc","domain":[{"year":2012,"month":1,"date":1,"utc":true},{"year":2023,"month":10,"date":1,"utc":true}]},
         "axis":{"format":"%Y","values":[{"year":2012,"utc":true},{"year":2013,"utc":true},{"year":2014,"utc":true},{"year":2015,"utc":true},{"year":2016,"utc":true},{"year":2017,"utc":true},{"year":2018,"utc":true},{"year":2019,"utc":true},{"year":2020,"utc":true},{"year":2021,"utc":true},{"year":2022,"utc":true},{"year":2023,"utc":true}]}},
    "y":{"field":"v","type":"quantitative","scale":{"domain":[60,120],"nice":false,"zero":false},"axis":{"values":[60,70,80,90,100,110,120]}},
    "color":{"field":"s","type":"nominal","scale":{"domain":["ip","rs"],"range":["#0f7fc4","#8cc63f"]},
      "legend":{"direction":"horizontal","legendX":39,"legendY":-6,"columnPadding":25,"labelExpr":"datum.label == 'ip' ? 'Industrial production' : 'Retail sales'"}}
   }},
  {"data":{"values":[{"ref":100}]},"mark":{"type":"rule","color":"#000","strokeWidth":3.5},"encoding":{"y":{"field":"ref","type":"quantitative"}}}
 ]
},
{
 "width":490,"height":348,
 "title":{"text":"B. Consumer and business confidence","subtitle":"Index Jan 2012 = 100","offset":22,"dx":-24},
 "layer":[
  {"data":{"name":"conf"},"mark":{"type":"line","strokeWidth":3.5,"clip":true},
   "encoding":{
    "x":{"field":"d","type":"temporal","scale":{"type":"utc","domain":[{"year":2012,"month":1,"date":1,"utc":true},{"year":2023,"month":10,"date":15,"utc":true}]},
         "axis":{"format":"%Y","values":[{"year":2012,"utc":true},{"year":2013,"utc":true},{"year":2014,"utc":true},{"year":2015,"utc":true},{"year":2016,"utc":true},{"year":2017,"utc":true},{"year":2018,"utc":true},{"year":2019,"utc":true},{"year":2020,"utc":true},{"year":2021,"utc":true},{"year":2022,"utc":true},{"year":2023,"utc":true}]}},
    "y":{"field":"v","type":"quantitative","scale":{"domain":[50,130],"nice":false,"zero":false},"axis":{"values":[50,60,70,80,90,100,110,120,130]}},
    "color":{"field":"s","type":"nominal","scale":{"domain":["c","b"],"range":["#0f7fc4","#8cc63f"]},
      "legend":{"direction":"horizontal","legendX":52,"legendY":-13,"columnPadding":69,"labelExpr":"datum.label == 'c' ? 'Consumers' : 'Businesses'"}}
   }},
  {"data":{"values":[{"ref":100}]},"mark":{"type":"rule","color":"#000","strokeWidth":3.5},"encoding":{"y":{"field":"ref","type":"quantitative"}}}
 ]
}
],
"spacing":69,
"bounds":"flush",
"resolve":{"scale":{"x":"independent","y":"independent","color":"independent"},"legend":{"color":"independent"}}
},
{
"hconcat":[
{
 "width":490,"height":342,
 "title":{"text":"C. Commodity prices","offset":22,"dx":-13},
 "layer":[
  {"data":{"name":"comm"},"mark":{"type":"line","strokeWidth":3,"clip":true},
   "encoding":{
    "x":{"field":"d","type":"temporal","scale":{"type":"utc","domain":[{"year":2021,"month":1,"date":1,"utc":true},{"year":2023,"month":3,"date":17,"utc":true}]},
         "axis":{"format":"%m-%y","tickCount":{"interval":"month","step":2}}},
    "y":{"field":"v","type":"quantitative","scale":{"domain":[0,300],"nice":false},"axis":{"values":[0,50,100,150,200,250,300]}},
    "color":{"field":"s","type":"nominal","scale":{"domain":["o","m","a"],"range":["#0f7fc4","#8cc63f","#8b0d0d"]},
      "legend":{"direction":"vertical","legendX":72,"legendY":-41,"clipHeight":22,"rowPadding":6.5,"labelExpr":"datum.label == 'o' ? 'Crude Oil – Brent' : datum.label == 'm' ? 'GSCI Metal index' : 'GSCI Agricultural & Livestock index'"}}
   }},
  {"data":{"values":[{"ref":100}]},"mark":{"type":"rule","color":"#000","strokeWidth":3.5},"encoding":{"y":{"field":"ref","type":"quantitative"}}}
 ]
},
{
 "width":477,"height":347,
 "title":{"text":"D. Investment","subtitle":"% of GDP","offset":28,"dx":-12},
 "data":{"name":"inv"},
 "mark":{"type":"line","strokeWidth":3.5,"color":"#0f7fc4","clip":true},
 "encoding":{
  "x":{"field":"d","type":"temporal","scale":{"type":"utc","domain":[{"year":2012,"month":1,"date":1,"utc":true},{"year":2023,"month":2,"date":3,"utc":true}]},
       "axis":{"format":"%Y","values":[{"year":2012,"utc":true},{"year":2013,"utc":true},{"year":2014,"utc":true},{"year":2015,"utc":true},{"year":2016,"utc":true},{"year":2017,"utc":true},{"year":2018,"utc":true},{"year":2019,"utc":true},{"year":2020,"utc":true},{"year":2021,"utc":true},{"year":2022,"utc":true},{"year":2023,"utc":true}]}},
  "y":{"field":"v","type":"quantitative","scale":{"domain":[0,25],"nice":false},"axis":{"values":[0,5,10,15,20,25]}}
 }
}
],
"spacing":60,
"bounds":"flush",
"resolve":{"scale":{"x":"independent","y":"independent","color":"independent"},"legend":{"color":"independent"}}
}
]
}
